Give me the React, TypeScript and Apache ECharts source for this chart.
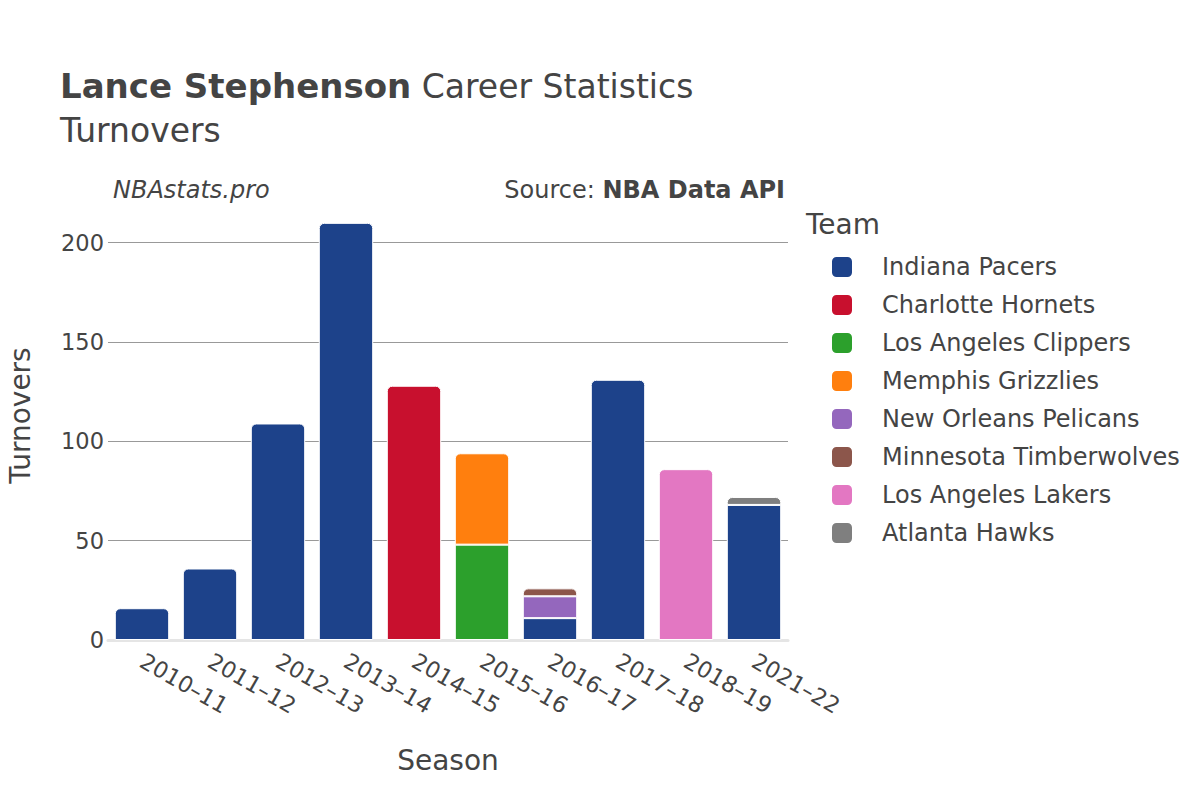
import React, { useEffect, useRef } from "react";
import * as echarts from "echarts";

const seasons = ["2010–11", "2011–12", "2012–13", "2013–14", "2014–15", "2015–16", "2016–17", "2017–18", "2018–19", "2021–22"];
const teams = ["Indiana Pacers", "Charlotte Hornets", "Los Angeles Clippers", "Memphis Grizzlies", "New Orleans Pelicans", "Minnesota Timberwolves", "Los Angeles Lakers", "Atlanta Hawks"];
const teamColors = ["#1d428a", "#c8102e", "#2ca02c", "#ff7f0e", "#9467bd", "#8c564b", "#e377c2", "#7f7f7f"];

const indianaPacers = [16, 36, 109, 210, null, null, 11, 131, null, 68];
const charlotteHornets = [null, null, null, null, 128, null, null, null, null, null];
const laClippers = [null, null, null, null, null, 48, null, null, null, null];
const memphisGrizzlies = [null, null, null, null, null, 46, null, null, null, null];
const nolaPelicans = [null, null, null, null, null, null, 11, null, null, null];
const minnesotaTimberwolves = [null, null, null, null, null, null, 4, null, null, null];
const laLakers = [null, null, null, null, null, null, null, null, 86, null];
const atlantaHawks = [null, null, null, null, null, null, null, null, null, 4];

const teamValues = [indianaPacers, charlotteHornets, laClippers, memphisGrizzlies, nolaPelicans, minnesotaTimberwolves, laLakers, atlantaHawks];

const yTicks = [0, 50, 100, 150, 200];

const FONT = "DejaVu Sans";

export default function App() {
  const ref = useRef<HTMLDivElement>(null);
  useEffect(() => {
    if (!ref.current) return;
    const chart = echarts.init(ref.current, undefined, { renderer: "svg" });

    const topIndex = seasons.map((_, ci) => {
      let top = -1;
      teamValues.forEach((vals, si) => {
        if (vals[ci] != null) top = si;
      });
      return top;
    });

    const series = teams.map((name, si) => ({
      name,
      type: "bar",
      stack: "total",
      barWidth: "80%",
      itemStyle: { color: teamColors[si], borderColor: "#ffffff", borderWidth: 1 },
      data: teamValues[si].map((v, ci) =>
        v == null
          ? null
          : {
              value: v,
              itemStyle: { borderRadius: topIndex[ci] === si ? [5, 5, 0, 0] : 0 },
            }
      ),
    }));

    chart.setOption({
      animation: false,
      textStyle: { fontFamily: FONT, color: "#444" },
      title: {
        left: 60,
        top: 64,
        padding: 0,
        text: "{b|Lance Stephenson}{n| Career Statistics}\n{n|Turnovers}",
        textStyle: {
          fontWeight: "normal",
          rich: {
            b: { fontFamily: FONT, fontSize: 34, fontWeight: "bold", color: "#444", lineHeight: 44 },
            n: { fontFamily: FONT, fontSize: 33, fontWeight: "normal", color: "#444", lineHeight: 44 },
          },
        },
      },
      graphic: [
        {
          type: "text",
          left: 113,
          top: 178,
          style: { text: "NBAstats.pro", font: `italic 24px "${FONT}"`, fill: "#444" },
        },
        {
          type: "text",
          right: 1200 - 785,
          top: 178,
          style: {
            text: "Source: {b|NBA Data API}",
            font: `24px "${FONT}"`,
            fill: "#444",
            rich: { b: { fontWeight: "bold", fontSize: 24, fontFamily: FONT, fill: "#444" } },
          },
        },
        {
          type: "text",
          left: 806,
          top: 210,
          style: { text: "Team", font: `28px "${FONT}"`, fill: "#444" },
        },
      ],
      legend: {
        orient: "vertical",
        left: 830,
        top: 255,
        padding: 0,
        itemWidth: 22,
        itemHeight: 22,
        itemGap: 14,
        icon: "roundRect",
        data: teams,
        textStyle: { fontFamily: FONT, fontSize: 24, color: "#444", padding: [0, 0, 0, 24] },
      },
      grid: { left: 108, right: 412, top: 201, bottom: 160, outerBoundsMode: "none", containLabel: false },
      xAxis: {
        type: "category",
        data: seasons,
        name: "Season",
        nameLocation: "middle",
        nameGap: 106,
        nameTextStyle: { fontFamily: FONT, fontSize: 28, color: "#444" },
        axisLine: { lineStyle: { color: "#e5e5e5", width: 3 } },
        axisTick: { show: false },
        axisLabel: { rotate: -30, fontSize: 22.5, color: "#444", fontFamily: FONT, margin: 19 },
      },
      yAxis: {
        type: "value",
        min: 0,
        max: 221,
        interval: 50,
        name: "Turnovers",
        nameLocation: "middle",
        nameGap: 74,
        nameTextStyle: { fontFamily: FONT, fontSize: 28, color: "#444", padding: [0, 0, 0, 10] },
        axisLine: { show: false },
        axisTick: { show: false },
        axisLabel: {
          fontSize: 22.5,
          color: "#444",
          fontFamily: FONT,
          margin: 4,
          showMaxLabel: false,
          formatter: (v: number) => (yTicks.includes(v) ? String(v) : ""),
        },
        splitLine: { showMaxLine: false, lineStyle: { color: "#999", width: 1 } },
      },
      series,
    });
    return () => chart.dispose();
  }, []);
  return <div ref={ref} style={{ position: "absolute", left: 0, top: 0, width: 1200, height: 800 }} />;
}
